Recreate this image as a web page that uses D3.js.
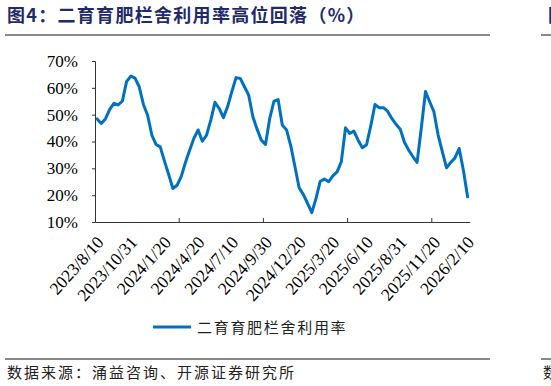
<!DOCTYPE html>
<html>
<head>
<meta charset="utf-8">
<script src="https://cdn.jsdelivr.net/npm/d3@7"></script>
<style>
  body { margin: 0; background: #fff; }
  svg { display: block; }
</style>
</head>
<body>
<div id="chart"></div>
<script>
// dekadal dates (two holiday dekads are absent in the source series)
const categories = [
  "2023/8/10","2023/8/20","2023/8/31","2023/9/10","2023/9/20","2023/9/30","2023/10/10","2023/10/20","2023/10/31",
  "2023/11/10","2023/11/20","2023/11/30","2023/12/10","2023/12/20","2023/12/31","2024/1/10","2024/1/20",
  "2024/1/31","2024/2/20","2024/2/29","2024/3/10","2024/3/20","2024/3/31","2024/4/10","2024/4/20",
  "2024/4/30","2024/5/10","2024/5/20","2024/5/31","2024/6/10","2024/6/20","2024/6/30","2024/7/10",
  "2024/7/20","2024/7/31","2024/8/10","2024/8/20","2024/8/31","2024/9/10","2024/9/20","2024/9/30",
  "2024/10/10","2024/10/20","2024/10/31","2024/11/10","2024/11/20","2024/11/30","2024/12/10","2024/12/20",
  "2024/12/31","2025/1/10","2025/1/20","2025/2/10","2025/2/20","2025/2/28","2025/3/10","2025/3/20",
  "2025/3/31","2025/4/10","2025/4/20","2025/4/30","2025/5/10","2025/5/20","2025/5/31","2025/6/10",
  "2025/6/20","2025/6/30","2025/7/10","2025/7/20","2025/7/31","2025/8/10","2025/8/20","2025/8/31",
  "2025/9/10","2025/9/20","2025/9/30","2025/10/10","2025/10/20","2025/10/31","2025/11/10","2025/11/20",
  "2025/11/30","2025/12/10","2025/12/20","2025/12/31","2026/1/10","2026/1/20","2026/1/31","2026/2/10"
];

const utilization = [
  48.4, 46.7, 48.5, 52.0, 54.2, 53.6, 55.1, 62.3, 64.4, 63.6,
  60.4, 53.8, 49.8, 42.4, 38.9, 38.0, 32.7, 27.7, 22.5, 23.7,
  27.0, 32.3, 36.8, 41.2, 44.3, 40.1, 42.4, 48.0, 54.6, 52.3,
  48.9, 53.0, 58.6, 63.8, 63.5, 60.4, 57.3, 49.2, 44.6, 40.5,
  38.9, 48.6, 55.0, 55.6, 46.1, 44.3, 38.4, 30.6, 22.7, 20.2,
  16.9, 13.5, 18.8, 25.2, 26.0, 25.0, 27.2, 28.7, 32.4, 45.1,
  43.0, 43.9, 40.5, 37.7, 38.8, 45.8, 53.8, 52.6, 52.6, 51.3,
  48.6, 46.4, 44.6, 39.7, 36.8, 34.4, 32.2, 44.9, 58.6, 54.8,
  51.1, 42.4, 36.2, 30.2, 32.2, 33.9, 37.4, 29.3, 19.4
];

const tickLabels = categories.filter((d, i) => i % 8 === 0);
const yTicks = [10, 20, 30, 40, 50, 60, 70];
const seriesName = "二育育肥栏舍利用率";

const width = 551;
const height = 386;
const plot = { left: 95, right: 469.7, top: 61, bottom: 222 };

const svg = d3.select("#chart").append("svg")
  .attr("width", width)
  .attr("height", height);

// title block
svg.append("text")
  .attr("x", 7)
  .attr("y", 22)
  .attr("font-family", "Noto Sans CJK SC")
  .attr("font-weight", "bold")
  .attr("font-size", 18)
  .attr("letter-spacing", 1.3)
  .attr("fill", "#1f2a6b")
  .text("图4：二育育肥栏舍利用率高位回落（%）");

// edge of the neighbouring panel
svg.append("text")
  .attr("x", 548)
  .attr("y", 22)
  .attr("font-family", "Noto Sans CJK SC")
  .attr("font-weight", "bold")
  .attr("font-size", 18)
  .attr("fill", "#1f2a6b")
  .text("图");

[[5, 490], [541, 551]].forEach(([a, b]) => {
  svg.append("line").attr("x1", a).attr("x2", b).attr("y1", 35).attr("y2", 35)
    .attr("stroke", "#888").attr("stroke-width", 2);
  svg.append("line").attr("x1", a).attr("x2", b).attr("y1", 359).attr("y2", 359)
    .attr("stroke", "#888").attr("stroke-width", 2);
});

const x = d3.scaleBand()
  .domain(categories)
  .range([plot.left, plot.right])
  .padding(0);

const y = d3.scaleLinear()
  .domain([10, 70])
  .range([plot.bottom, plot.top]);

const cx = d => x(d) + x.bandwidth() / 2;

// y axis
const yAxis = svg.append("g")
  .attr("transform", `translate(${plot.left},0)`)
  .call(d3.axisLeft(y).tickValues(yTicks).tickSize(3).tickPadding(14).tickFormat(d => d + "%"));
yAxis.selectAll("path, line").attr("stroke", "#333");
yAxis.selectAll("text")
  .attr("font-family", "Liberation Serif")
  .attr("font-size", 17)
  .attr("fill", "#000");

// x axis
const xAxis = svg.append("g")
  .attr("transform", `translate(0,${plot.bottom})`)
  .call(d3.axisBottom(x).tickValues(tickLabels).tickSizeInner(0).tickSizeOuter(0));
xAxis.select(".domain").attr("stroke", "#333");
xAxis.selectAll("text")
  .attr("font-family", "Liberation Serif")
  .attr("font-size", 17.5)
  .attr("fill", "#000")
  .attr("text-anchor", "end")
  .attr("y", 0)
  .attr("dy", "0.35em")
  .attr("transform", "translate(3,17) rotate(-48)");

// tick marks every 20 categories on band edges
svg.append("g").selectAll("line")
  .data(categories.filter((d, i) => i > 0 && i % 20 === 0))
  .join("line")
  .attr("x1", d => x(d))
  .attr("x2", d => x(d))
  .attr("y1", plot.bottom - 4)
  .attr("y2", plot.bottom)
  .attr("stroke", "#333");

// series line
const line = d3.line()
  .x((d, i) => cx(categories[i]))
  .y(d => y(d));

svg.append("path")
  .datum(utilization)
  .attr("d", line)
  .attr("fill", "none")
  .attr("stroke", "#0070c0")
  .attr("stroke-width", 3)
  .attr("stroke-linejoin", "round")
  .attr("stroke-linecap", "round");

// legend
svg.append("line")
  .attr("x1", 153).attr("x2", 191)
  .attr("y1", 327).attr("y2", 327)
  .attr("stroke", "#0070c0")
  .attr("stroke-width", 3);

svg.append("text")
  .attr("x", 197)
  .attr("y", 332.5)
  .attr("font-family", "Noto Sans CJK SC")
  .attr("font-size", 15)
  .attr("letter-spacing", 1.7)
  .attr("fill", "#222")
  .text(seriesName);

// source
svg.append("text")
  .attr("x", 7)
  .attr("y", 378)
  .attr("font-family", "Noto Sans CJK SC")
  .attr("font-size", 15)
  .attr("letter-spacing", 2)
  .attr("fill", "#222")
  .text("数据来源：涌益咨询、开源证券研究所");

svg.append("text")
  .attr("x", 543)
  .attr("y", 378)
  .attr("font-family", "Noto Sans CJK SC")
  .attr("font-size", 15)
  .attr("fill", "#222")
  .text("数");
</script>
</body>
</html>
